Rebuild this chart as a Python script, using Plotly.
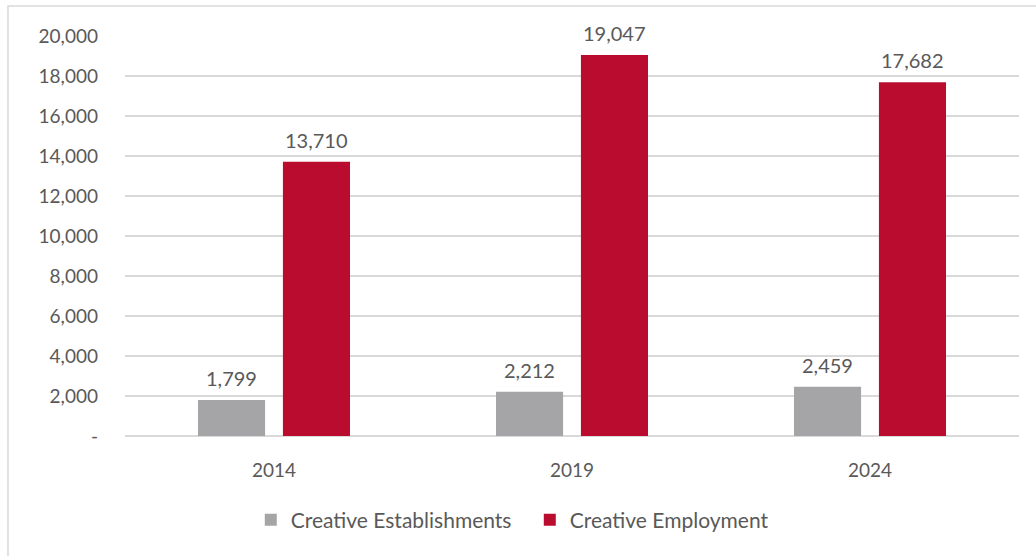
import plotly.graph_objects as go

years = ["2014", "2019", "2024"]
establishments = [1799, 2212, 2459]
employment = [13710, 19047, 17682]
y_ticks = [0, 2000, 4000, 6000, 8000, 10000, 12000, 14000, 16000, 18000, 20000]
y_tick_text = ["-", "2,000", "4,000", "6,000", "8,000", "10,000", "12,000",
               "14,000", "16,000", "18,000", "20,000"]

GREY = "#A5A5A7"
RED = "#BA0C2F"
TEXT = "#595959"
FONT = "Lato"

fig = go.Figure()
fig.add_trace(go.Bar(name="Creative Establishments", x=years, y=establishments,
                     marker=dict(color=GREY, line=dict(width=0))))
fig.add_trace(go.Bar(name="Creative Employment", x=years, y=employment,
                     marker=dict(color=RED, line=dict(width=0))))

# value labels above each bar (category index positions, shifted onto each bar)
for series, shift in ((establishments, -42.5), (employment, 42.5)):
    for i, v in enumerate(series):
        fig.add_annotation(x=i, y=v, xref="x", yref="y", text=f"{v:,}",
                           showarrow=False, xshift=shift, yanchor="bottom", yshift=8,
                           font=dict(family=FONT, size=20, color=TEXT))

# outer chart frame
fig.add_shape(type="rect", xref="paper", yref="paper",
              x0=-0.1309, x1=1.1, y0=-0.4, y1=1.075,
              line=dict(color="#D9D9D9", width=1.5), fillcolor="rgba(0,0,0,0)", layer="below")

fig.update_layout(
    width=1036, height=556,
    margin=dict(l=125, r=17, t=36, b=120),
    paper_bgcolor="white", plot_bgcolor="white",
    barmode="group", bargap=0.43, bargroupgap=0.21,
    font=dict(family=FONT, size=19, color=TEXT),
    showlegend=True,
    legend=dict(orientation="h", x=0.1407, xanchor="left", y=-0.21, yanchor="middle",
                font=dict(family=FONT, size=21, color=TEXT),
                entrywidth=234, entrywidthmode="pixels",
                traceorder="normal"),
)
fig.update_xaxes(type="category", range=[-0.5, len(years) - 0.5],
                 showgrid=False, showline=False, ticks="",
                 ticklabelstandoff=21,
                 tickfont=dict(family=FONT, size=19, color=TEXT))
fig.update_yaxes(range=[0, 20000], tickvals=y_ticks, ticktext=y_tick_text,
                 showgrid=True, gridcolor="#D9D9D9", gridwidth=1.5,
                 zeroline=True, zerolinecolor="#D9D9D9", zerolinewidth=1.5,
                 showline=False, ticks="", ticklabelstandoff=26,
                 tickfont=dict(family=FONT, size=19, color=TEXT))

fig.write_html("out.html")
